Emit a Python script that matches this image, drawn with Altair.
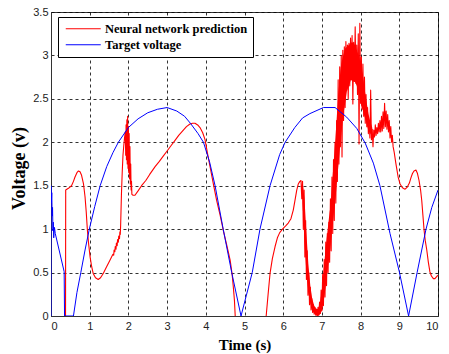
import altair as alt
import pandas as pd

# ---------------- data ----------------
series_names = ["Neural network prediction", "Target voltage"]
series_colors = ["#ff0000", "#0000ff"]

x_ticks = [0, 1, 2, 3, 4, 5, 6, 7, 8, 9, 10]
y_ticks = [0, 0.5, 1, 1.5, 2, 2.5, 3, 3.5]

nn_time = [
    0.375, 0.38, 0.45, 0.53, 0.58, 0.62, 0.67, 0.71, 0.75, 0.79, 0.84, 0.88, 0.91, 0.94, 0.97,
    1.01, 1.05, 1.09, 1.15, 1.22, 1.28, 1.35, 1.43, 1.52, 1.60, 1.62, 1.63, 1.65, 1.66, 1.68,
    1.69, 1.71, 1.72, 1.74, 1.75, 1.77, 1.78, 1.79, 1.80, 1.82, 1.84, 1.86, 1.88, 1.90, 1.92,
    1.93, 1.94, 1.95, 1.96, 1.97, 1.98, 1.99, 2.00, 2.01, 2.02, 2.03, 2.04, 2.05, 2.06, 2.07,
    2.08, 2.09, 2.12, 2.17, 2.25, 2.34, 2.45, 2.55, 2.69, 2.80, 2.90, 3.00, 3.10, 3.20, 3.30,
    3.42, 3.50, 3.59, 3.66, 3.72, 3.79, 3.85, 3.92, 3.98, 4.04, 4.11, 4.20, 4.28, 4.37, 4.45,
    4.54, 4.63, 4.68, 4.71, 4.74, 4.76, 4.78, 5.54, 5.56, 5.61, 5.66, 5.72, 5.79, 5.85, 5.91,
    6.00, 6.07, 6.13, 6.20, 6.26, 6.30, 6.35, 6.39, 6.43,
    6.46, 6.48, 6.50, 6.52, 6.54, 6.56, 6.58, 6.60, 6.62, 6.64, 6.66, 6.68, 6.70, 6.72, 6.74,
    6.76, 6.78, 6.80, 6.82, 6.84, 6.86, 6.88, 6.90, 6.92, 6.94, 6.96, 6.98, 7.00, 7.02, 7.04,
    7.06, 7.08, 7.10, 7.12, 7.14, 7.16, 7.18, 7.20, 7.22, 7.24, 7.26, 7.28, 7.30, 7.32, 7.34,
    7.36, 7.38, 7.40, 7.42, 7.44, 7.46, 7.48, 7.50, 7.52, 7.54, 7.56, 7.58, 7.60, 7.62, 7.64,
    7.66, 7.68, 7.70, 7.72, 7.74, 7.76, 7.78, 7.80, 7.82, 7.84, 7.86, 7.88, 7.90, 7.92, 7.94,
    7.96, 7.98, 8.00, 8.02, 8.04, 8.06, 8.08, 8.10, 8.12, 8.14, 8.16, 8.18, 8.20, 8.22, 8.24,
    8.26, 8.28, 8.30, 8.32, 8.34, 8.36, 8.38, 8.40, 8.42, 8.44, 8.46, 8.48, 8.50, 8.52, 8.54,
    8.56, 8.58, 8.60, 8.62, 8.64, 8.66, 8.68, 8.70, 8.72, 8.74, 8.76, 8.78, 8.80, 8.82, 8.84,
    8.87, 8.91, 8.97, 9.02, 9.06, 9.10, 9.15, 9.20, 9.26, 9.30, 9.34, 9.38, 9.43, 9.47, 9.51,
    9.55, 9.58, 9.61, 9.64, 9.67, 9.71, 9.75, 9.79, 9.83, 9.88, 9.92, 9.96, 10.00,
]
nn_voltage = [
    -0.3, 1.45, 1.47, 1.50, 1.55, 1.60, 1.65, 1.67, 1.66, 1.62, 1.52, 1.37, 1.20, 0.99, 0.84,
    0.68, 0.57, 0.49, 0.44, 0.42, 0.44, 0.49, 0.56, 0.64, 0.71, 0.70, 0.76, 0.74, 0.80, 0.77,
    0.84, 0.81, 0.88, 0.85, 0.92, 0.89, 0.97, 0.94, 1.05, 1.40, 1.65, 1.85, 1.96, 2.05, 2.12,
    1.85, 2.20, 1.80, 2.26, 1.75, 2.30, 1.70, 2.18, 1.65, 2.10, 1.58, 1.95, 1.52, 1.75, 1.45,
    1.55, 1.40, 1.39, 1.39, 1.44, 1.50, 1.56, 1.63, 1.72, 1.78, 1.84, 1.90, 1.96, 2.02, 2.08,
    2.14, 2.18, 2.21, 2.22, 2.22, 2.20, 2.17, 2.11, 2.03, 1.88, 1.72, 1.51, 1.33, 1.16, 0.99,
    0.82, 0.64, 0.48, 0.34, 0.18, 0.00, -0.3, -0.3, 0.00, 0.25, 0.49, 0.66, 0.80, 0.90, 0.96,
    1.01, 1.04, 1.07, 1.12, 1.22, 1.32, 1.45, 1.52, 1.55,
    1.56, 1.35, 1.55, 1.00, 1.45, 0.68, 1.10, 0.42, 0.75, 0.24, 0.50, 0.13, 0.33, 0.07, 0.20,
    0.04, 0.13, 0.02, 0.10, 0.01, 0.08, 0.00, 0.10, 0.01, 0.16, 0.03, 0.30, 0.06, 0.48, 0.12,
    0.65, 0.22, 0.85, 0.35, 0.95, 0.50, 1.08, 0.62, 1.35, 0.75, 1.60, 0.95, 1.80, 1.10, 2.00,
    1.30, 2.25, 1.55, 2.72, 1.75, 2.87, 1.95, 3.00, 1.83, 3.06, 2.25, 3.10, 2.40, 3.16, 2.60,
    3.12, 2.50, 3.14, 2.65, 3.20, 2.72, 3.23, 2.44, 3.15, 2.70, 3.33, 2.68, 3.12, 2.55, 3.25,
    1.98, 3.37, 2.45, 2.98, 2.38, 2.90, 2.30, 2.75, 2.22, 2.55, 2.18, 2.40, 2.10, 2.25, 2.05,
    2.60, 2.03, 2.15, 1.95, 2.14, 2.06, 2.20, 2.08, 2.17, 2.10, 2.22, 2.12, 2.25, 2.12, 2.30,
    2.13, 2.35, 2.16, 2.45, 2.18, 2.36, 2.15, 2.32, 2.12, 2.25, 2.05, 2.18, 2.00, 2.08, 1.95,
    1.88, 1.76, 1.60, 1.52, 1.49, 1.47, 1.46, 1.48, 1.53, 1.59, 1.64, 1.67, 1.68, 1.64, 1.56,
    1.45, 1.33, 1.16, 0.99, 0.87, 0.76, 0.62, 0.51, 0.46, 0.43, 0.43, 0.45, 0.47,
]

# solid core of the densely oscillating part of the prediction
band_time = [6.50, 6.55, 6.60, 6.65, 6.70, 6.75, 6.80, 6.85, 6.90, 6.95, 7.00, 7.05, 7.10,
             7.15, 7.20, 7.22, 7.26, 7.30, 7.35, 7.40, 7.45, 7.50, 7.55, 7.60, 7.65, 7.70,
             7.75, 7.80, 7.85, 7.90, 7.95, 8.00, 8.05, 8.10, 8.15, 8.20, 8.25, 8.30]
band_low = [1.30, 0.85, 0.50, 0.28, 0.15, 0.07, 0.03, 0.01, 0.00, 0.02, 0.06, 0.18, 0.35,
            0.55, 0.70, 0.80, 0.98, 1.15, 1.35, 1.60, 1.85, 2.10, 2.30, 2.45, 2.60, 2.65,
            2.72, 2.70, 2.70, 2.65, 2.55, 2.45, 2.38, 2.30, 2.22, 2.14, 2.10, 2.07]
band_high = [1.55, 1.35, 0.95, 0.60, 0.35, 0.20, 0.12, 0.08, 0.08, 0.15, 0.30, 0.55, 0.80,
             1.00, 1.20, 1.25, 1.50, 1.75, 2.05, 2.40, 2.70, 2.90, 3.00, 3.08, 3.10, 3.12,
             3.15, 3.15, 3.12, 3.05, 3.00, 2.90, 2.78, 2.62, 2.48, 2.33, 2.24, 2.17]

target_time = [
    0.00, 0.00, 0.01, 0.02, 0.03, 0.04, 0.05, 0.06, 0.07, 0.09, 0.11, 0.34, 0.35, 0.58, 0.67,
    0.77, 0.88, 0.99, 1.13, 1.27, 1.44, 1.60, 1.74, 2.00, 2.25, 2.50, 2.75, 3.00, 3.25, 3.45,
    3.60, 3.80, 3.94, 4.10, 4.24, 4.45, 4.67, 4.91, 5.20, 5.40, 5.66, 5.91, 6.05, 6.30, 6.50,
    6.69, 7.04, 7.34, 7.64, 7.90, 8.12, 8.33, 8.50, 8.76, 9.00, 9.24, 9.46, 9.69, 9.84, 10.00,
]
target_voltage = [
    0.00, 1.50, 1.30, 1.42, 1.15, 1.25, 0.98, 1.08, 0.90, 1.02, 0.95, 0.51, 0.00, 0.00, 0.27,
    0.50, 0.76, 1.00, 1.26, 1.50, 1.72, 1.88, 2.00, 2.17, 2.27, 2.34, 2.38, 2.40, 2.36, 2.30,
    2.22, 2.10, 2.00, 1.77, 1.50, 1.00, 0.50, 0.00, 0.50, 1.00, 1.50, 1.86, 2.00, 2.17, 2.28,
    2.33, 2.40, 2.40, 2.29, 2.16, 1.99, 1.76, 1.50, 0.95, 0.51, 0.00, 0.50, 1.00, 1.25, 1.45,
]

nn_df = pd.DataFrame({
    "time": nn_time, "voltage": nn_voltage,
    "series": series_names[0], "idx": list(range(len(nn_time))),
})
tg_df = pd.DataFrame({
    "time": target_time, "voltage": target_voltage,
    "series": series_names[1], "idx": list(range(len(target_time))),
})
band_df = pd.DataFrame({"time": band_time, "voltage": band_low, "voltage2": band_high})

x_enc = alt.X(
    "time:Q",
    scale=alt.Scale(domain=[0, 10], nice=False, zero=False),
    axis=alt.Axis(values=x_ticks, title="Time (s)", labelPadding=4, titleFontSize=15,
                  titleY=33, titleBaseline="alphabetic"),
)
y_enc = alt.Y(
    "voltage:Q",
    scale=alt.Scale(domain=[0, 3.5], nice=False, zero=False),
    axis=alt.Axis(values=y_ticks, format="~g", title="Voltage (v)", labelPadding=3,
                  titleFontSize=18, titleX=-27, titleY=156, titleAlign="center",
                  titleBaseline="alphabetic"),
)
color_enc = alt.Color(
    "series:N",
    title=None,
    scale=alt.Scale(domain=series_names, range=series_colors),
    legend=alt.Legend(
        orient="none", legendX=7, legendY=5, direction="vertical",
        symbolType="M-0.8,0H6.2", symbolSize=100, symbolStrokeWidth=1.2,
        labelFont="Liberation Serif", labelFontWeight="bold", labelFontSize=12.5,
        labelColor="#000", labelOffset=29, labelLimit=300,
        padding=5.5, rowPadding=3, strokeColor="#000", fillColor="#ffffff",
    ),
)

band = alt.Chart(band_df).mark_area(clip=True, color="#ff0000", opacity=1).encode(
    x=x_enc, y=y_enc, y2="voltage2:Q"
)
nn_line = alt.Chart(nn_df).mark_line(clip=True, strokeWidth=1.1, strokeJoin="round").encode(
    x=x_enc, y=y_enc, color=color_enc, order=alt.Order("idx:Q")
)
tg_line = alt.Chart(tg_df).mark_line(clip=True, strokeWidth=1, strokeJoin="round").encode(
    x=x_enc, y=y_enc, color=color_enc, order=alt.Order("idx:Q")
)

chart = alt.layer(band, nn_line, tg_line).properties(
    width=387, height=304,
    padding={"left": 51, "top": 12, "right": 11, "bottom": 38},
    autosize=alt.AutoSizeParams(type="none"),
    background="#ffffff",
).configure_axis(
    grid=True, gridColor="#000000", gridDash=[3, 3], gridOpacity=0.8, gridWidth=1,
    domainColor="#333333", domainWidth=1, ticks=False, tickSize=0,
    labelFont="Liberation Sans", labelFontSize=11, labelColor="#222222",
    titleFont="Liberation Serif", titleFontWeight="bold", titleColor="#000000",
).configure_view(stroke="#333333", strokeWidth=1)

chart.save("out.html", embed_options={"renderer": "svg", "actions": False})
